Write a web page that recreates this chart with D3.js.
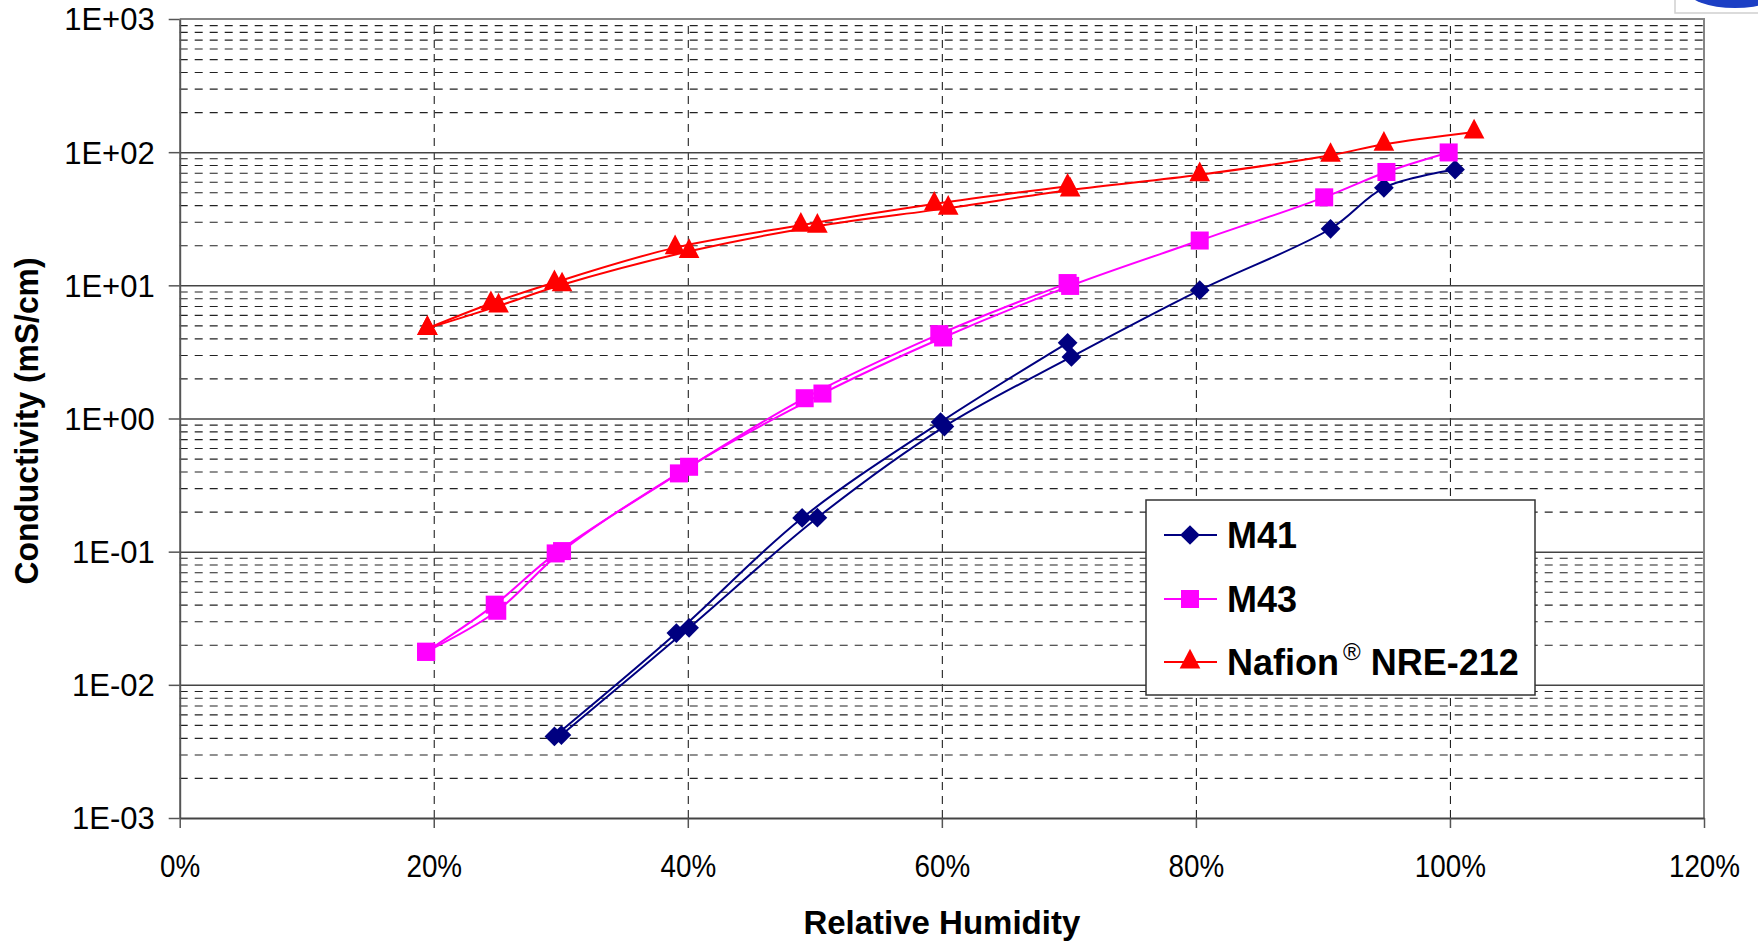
<!DOCTYPE html>
<html>
<head>
<meta charset="utf-8">
<script src="https://cdn.jsdelivr.net/npm/d3@7"></script>
<style>
  body { margin: 0; background: #fff; }
  text { font-family: "Liberation Sans", Arial, sans-serif; }
</style>
</head>
<body>
<svg id="viz"></svg>
<script>
// chart size
var width = 1758,
	height = 943;

// plot area (pixels)
var plotLeft = 179.7, plotRight = 1704, plotTop = 19, plotBottom = 818;

// data: relative humidity (fraction) and conductivity (mS/cm), two runs per membrane
var rhM41A = [0.295, 0.391, 0.490, 0.599, 0.699];
var sigM41A = [0.0041, 0.0245, 0.179, 0.94, 3.7];
var rhM41B = [0.3005, 0.401, 0.502, 0.602, 0.702, 0.803, 0.906, 0.948, 1.004];
var sigM41B = [0.0042, 0.0268, 0.18, 0.87, 2.9, 9.2, 26.6, 54, 74];

var rhM43A = [0.194, 0.248, 0.296, 0.393, 0.492, 0.598, 0.699];
var sigM43A = [0.0177, 0.040, 0.097, 0.387, 1.42, 4.3, 10.4];
var rhM43B = [0.194, 0.250, 0.301, 0.401, 0.506, 0.601, 0.701, 0.803, 0.901, 0.950, 0.999];
var sigM43B = [0.0177, 0.036, 0.101, 0.434, 1.54, 4.06, 9.9, 21.7, 45.8, 71, 99.5];

var rhNafA = [0.195, 0.245, 0.295, 0.390, 0.489, 0.594, 0.699];
var sigNafA = [4.75, 7.3, 10.5, 19.2, 28.3, 40.8, 55.5];
var rhNafB = [0.195, 0.251, 0.301, 0.401, 0.502, 0.605, 0.701, 0.803, 0.906, 0.948, 1.019];
var sigNafB = [4.75, 7.0, 10.1, 18, 27.8, 38, 52, 67.7, 94.8, 114.7, 142];

// axis ticks
var xTicks = [0, 0.2, 0.4, 0.6, 0.8, 1.0, 1.2];
var yDecades = [1e-3, 1e-2, 1e-1, 1e0, 1e1, 1e2, 1e3];
var seriesNames = ["M41", "M43", "Nafion"];

// series styling
var seriesColors = { "M41": "#000080", "M43": "#ff00ff", "Nafion": "#ff0000" };
var seriesShapes = { "M41": "diamond", "M43": "square", "Nafion": "triangle" };

function zipRuns(rh, sig) {
	return rh.map(function(d, i) { return { rh: d, sig: sig[i] }; });
}

var series = [
	{ name: "M41", runs: [zipRuns(rhM41A, sigM41A), zipRuns(rhM41B, sigM41B)] },
	{ name: "M43", runs: [zipRuns(rhM43A, sigM43A), zipRuns(rhM43B, sigM43B)] },
	{ name: "Nafion", runs: [zipRuns(rhNafA, sigNafA), zipRuns(rhNafB, sigNafB)] }
];

// scales
var x = d3.scaleLinear().domain([0, 1.2]).range([plotLeft, plotRight]);
var y = d3.scaleLog().domain([1e-3, 1e3]).range([plotBottom, plotTop]);

var svg = d3.select("#viz").attr("width", width).attr("height", height);

// minor gridline values (2..9 in each decade)
var yMinor = [];
yDecades.slice(0, -1).forEach(function(d) {
	for (var k = 2; k <= 9; k++) yMinor.push(d * k);
});

// minor dashed horizontal grid
svg.append("g")
	.attr("transform", "translate(" + plotLeft + ",0)")
	.call(d3.axisLeft(y).tickValues(yMinor).tickFormat("").tickSize(-(plotRight - plotLeft)).tickSizeOuter(0))
	.call(function(g) { g.select(".domain").remove(); })
	.selectAll("line")
		.attr("stroke", "#222")
		.attr("stroke-width", 1.1)
		.attr("stroke-dasharray", "8,7");

// vertical dashed grid
svg.append("g")
	.attr("transform", "translate(0," + plotBottom + ")")
	.call(d3.axisBottom(x).tickValues(xTicks.slice(1, -1)).tickFormat("").tickSize(-(plotBottom - plotTop)).tickSizeOuter(0))
	.call(function(g) { g.select(".domain").remove(); })
	.selectAll("line")
		.attr("stroke", "#222")
		.attr("stroke-width", 1.1)
		.attr("stroke-dasharray", "8,6");

// major solid horizontal grid at decades
svg.append("g")
	.attr("transform", "translate(" + plotLeft + ",0)")
	.call(d3.axisLeft(y).tickValues(yDecades.slice(1, -1)).tickFormat("").tickSize(-(plotRight - plotLeft)).tickSizeOuter(0))
	.call(function(g) { g.select(".domain").remove(); })
	.selectAll("line")
		.attr("stroke", "#444")
		.attr("stroke-width", 1.5);

// plot frame (top and right)
svg.append("path")
	.attr("d", "M" + plotLeft + "," + plotTop + "H" + plotRight + "V" + plotBottom)
	.attr("fill", "none")
	.attr("stroke", "#858585")
	.attr("stroke-width", 2);

// y-axis label format 1E+03 etc.
function expFormat(v) {
	var e = Math.round(Math.log10(v));
	var s = Math.abs(e) < 10 ? "0" + Math.abs(e) : "" + Math.abs(e);
	return "1E" + (e < 0 ? "-" : "+") + s;
}

// y axis
var yAxis = svg.append("g")
	.attr("transform", "translate(" + plotLeft + ",0)")
	.call(d3.axisLeft(y).tickValues(yDecades).tickFormat(expFormat).tickSize(11).tickPadding(14).tickSizeOuter(0));
yAxis.select(".domain").attr("stroke", "#555").attr("stroke-width", 2);
yAxis.selectAll("line").attr("stroke", "#555").attr("stroke-width", 1.5);
yAxis.selectAll("text")
	.attr("font-size", 31)
	.attr("fill", "#000")
	.attr("dy", "0.35em");

// x axis
var xAxis = svg.append("g")
	.attr("transform", "translate(0," + plotBottom + ")")
	.call(d3.axisBottom(x).tickValues(xTicks).tickFormat(d3.format(".0%")).tickSize(10).tickSizeOuter(0));
xAxis.select(".domain").attr("stroke", "#444").attr("stroke-width", 2.2);
xAxis.selectAll("line").attr("stroke", "#555").attr("stroke-width", 1.5);
xAxis.selectAll("text")
	.attr("font-size", 32)
	.attr("fill", "#000")
	.attr("y", 0)
	.attr("dy", null)
	.attr("transform", "translate(0,59) scale(0.87,1)");

// axis titles
svg.append("text")
	.attr("x", (plotLeft + plotRight) / 2)
	.attr("y", 934)
	.attr("text-anchor", "middle")
	.attr("font-size", 33)
	.attr("font-weight", "bold")
	.text("Relative Humidity");

svg.append("text")
	.attr("transform", "translate(38,421) rotate(-90)")
	.attr("text-anchor", "middle")
	.attr("font-size", 34)
	.attr("font-weight", "bold")
	.attr("textLength", 327)
	.attr("lengthAdjust", "spacingAndGlyphs")
	.text("Conductivity (mS/cm)");

// marker shapes
function markerPath(shape) {
	if (shape == "diamond") return d3.symbol().type(d3.symbolSquare).size(195)();
	if (shape == "square") return d3.symbol().type(d3.symbolSquare).size(325)();
	return d3.symbol().type(d3.symbolTriangle).size(185)();
}
function markerTransform(shape, px, py) {
	if (shape == "diamond") return "translate(" + px + "," + py + ") rotate(45)";
	if (shape == "triangle") return "translate(" + px + "," + py + ") scale(1,1.1)";
	return "translate(" + px + "," + py + ")";
}

var line = d3.line()
	.x(function(d) { return x(d.rh); })
	.y(function(d) { return y(d.sig); })
	.curve(d3.curveCatmullRom.alpha(0.5));

// draw series lines then markers
var seriesGroup = svg.selectAll(".series")
	.data(series)
	.enter()
	.append("g")
	.attr("class", "series");

seriesGroup.selectAll("path.run")
	.data(function(d) { return d.runs.map(function(r) { return { name: d.name, pts: r }; }); })
	.enter()
	.append("path")
	.attr("class", "run")
	.attr("d", function(d) { return line(d.pts); })
	.attr("fill", "none")
	.attr("stroke", function(d) { return seriesColors[d.name]; })
	.attr("stroke-width", 2);

seriesGroup.selectAll("path.marker")
	.data(function(d) {
		var pts = [];
		d.runs.forEach(function(r) { r.forEach(function(p) { pts.push({ name: d.name, rh: p.rh, sig: p.sig }); }); });
		return pts;
	})
	.enter()
	.append("path")
	.attr("class", "marker")
	.attr("d", function(d) { return markerPath(seriesShapes[d.name]); })
	.attr("transform", function(d) { return markerTransform(seriesShapes[d.name], x(d.rh), y(d.sig)); })
	.attr("fill", function(d) { return seriesColors[d.name]; });

// legend
var legend = svg.append("g");
legend.append("rect")
	.attr("x", 1146).attr("y", 500)
	.attr("width", 389).attr("height", 195)
	.attr("fill", "#fff")
	.attr("stroke", "#333")
	.attr("stroke-width", 1.5);

var legendRows = [535, 599, 662];
seriesNames.forEach(function(name, i) {
	var ly = legendRows[i];
	legend.append("line")
		.attr("x1", 1164).attr("x2", 1217)
		.attr("y1", ly).attr("y2", ly)
		.attr("stroke", seriesColors[name])
		.attr("stroke-width", 2);
	legend.append("path")
		.attr("d", markerPath(seriesShapes[name]))
		.attr("transform", markerTransform(seriesShapes[name], 1190, ly))
		.attr("fill", seriesColors[name]);
	var t = legend.append("text")
		.attr("x", 1227)
		.attr("y", ly + 13)
		.attr("font-size", 36)
		.attr("font-weight", "bold")
		.attr("fill", "#000");
	if (name == "Nafion") {
		t.append("tspan").text("Nafion");
		t.append("tspan").attr("dx", 4).attr("dy", -15).attr("font-size", 24).attr("font-weight", "normal").text("®");
		t.append("tspan").attr("dy", 15).text(" NRE-212");
	} else {
		t.text(name);
	}
});

// partly visible logo at the top-right corner
svg.append("rect")
	.attr("x", 1675).attr("y", -5)
	.attr("width", 100).attr("height", 18)
	.attr("fill", "#fff")
	.attr("stroke", "#cfcfcf")
	.attr("stroke-width", 1.5);
svg.append("ellipse")
	.attr("cx", 1735).attr("cy", -10)
	.attr("rx", 48).attr("ry", 18)
	.attr("fill", "#1c3fc4");
</script>
</body>
</html>
